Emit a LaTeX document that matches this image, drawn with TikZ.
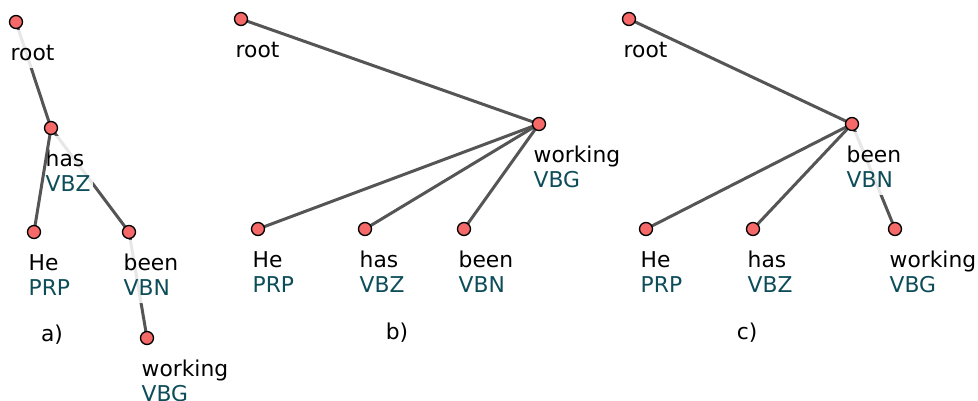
\documentclass[tikz,border=0pt]{standalone}
\usepackage{fontspec}
\setmainfont{DejaVu Sans}
\definecolor{dotred}{RGB}{245,105,105}
\definecolor{edgegray}{RGB}{85,85,85}
\definecolor{posteal}{RGB}{13,77,90}
\begin{document}
\begin{tikzpicture}[x=1pt,y=-1pt,
  edge/.style={draw=edgegray,line width=3pt},
  dot/.style={circle,draw=black,line width=1.3pt,fill=dotred,minimum size=13pt,inner sep=0pt},
  lbl/.style={anchor=north west,inner xsep=2pt,inner ysep=0pt,fill=white,fill opacity=0.86,text opacity=1,align=left,font=\fontsize{21.8}{25}\selectfont},
  captxt/.style={font=\fontsize{21.8}{25}\selectfont,inner sep=0pt}]
\useasboundingbox (0,0) rectangle (978,400);
% ---------- coordinates ----------
\coordinate (aroot) at (16,22);
\coordinate (ahas) at (51,128);
\coordinate (ahe) at (34,232);
\coordinate (abeen) at (129,232);
\coordinate (awork) at (147,338);
\coordinate (broot) at (241,19);
\coordinate (bwork) at (539,124);
\coordinate (bhe) at (258,229);
\coordinate (bhas) at (365,229);
\coordinate (bbeen) at (464,229);
\coordinate (croot) at (629,19);
\coordinate (cbeen) at (852,124);
\coordinate (che) at (646,229);
\coordinate (chas) at (753,229);
\coordinate (cwork) at (895,229);
% ---------- tree a ----------
\path[edge] (aroot) -- (ahas);
\node[lbl] (laroot) at ([shift={(-7.5,8)}]aroot) {\rule{0pt}{30.5pt}root\rule[-7pt]{0pt}{0pt}};
\path[edge] (ahas) -- (abeen);
\node[lbl] (lahas) at ([shift={(-7.5,8)}]ahas) {\rule{0pt}{30.5pt}has\\\textcolor{posteal}{VBZ}\rule[-7pt]{0pt}{0pt}};
\path[edge] (ahas) -- (ahe);
\path[edge] (abeen) -- (awork);
\node[lbl] (lahe) at ([shift={(-7.5,8)}]ahe) {\rule{0pt}{30.5pt}He\\\textcolor{posteal}{PRP}\rule[-7pt]{0pt}{0pt}};
\node[lbl] (labeen) at ([shift={(-7.5,8)}]abeen) {\rule{0pt}{30.5pt}been\\\textcolor{posteal}{VBN}\rule[-7pt]{0pt}{0pt}};
\node[lbl] (lawork) at ([shift={(-7.5,8)}]awork) {\rule{0pt}{30.5pt}working\\\textcolor{posteal}{VBG}\rule[-7pt]{0pt}{0pt}};
\node[captxt] (capa) at (52,335) {a)};
% ---------- tree b ----------
\node[lbl] (lbroot) at ([shift={(-7.5,8)}]broot) {\rule{0pt}{30.5pt}root\rule[-7pt]{0pt}{0pt}};
\node[lbl] (lbwork) at ([shift={(-7.5,8)}]bwork) {\rule{0pt}{30.5pt}working\\\textcolor{posteal}{VBG}\rule[-7pt]{0pt}{0pt}};
\node[lbl] (lbhe) at ([shift={(-7.5,8)}]bhe) {\rule{0pt}{30.5pt}He\\\textcolor{posteal}{PRP}\rule[-7pt]{0pt}{0pt}};
\node[lbl] (lbhas) at ([shift={(-7.5,8)}]bhas) {\rule{0pt}{30.5pt}has\\\textcolor{posteal}{VBZ}\rule[-7pt]{0pt}{0pt}};
\node[lbl] (lbbeen) at ([shift={(-7.5,8)}]bbeen) {\rule{0pt}{30.5pt}been\\\textcolor{posteal}{VBN}\rule[-7pt]{0pt}{0pt}};
\path[edge] (broot) -- (bwork);
\path[edge] (bwork) -- (bhe);
\path[edge] (bwork) -- (bhas);
\path[edge] (bwork) -- (bbeen);
\node[captxt] (capb) at (397,333) {b)};
% ---------- tree c ----------
\path[edge] (cbeen) -- (cwork);
\node[lbl] (lcroot) at ([shift={(-7.5,8)}]croot) {\rule{0pt}{30.5pt}root\rule[-7pt]{0pt}{0pt}};
\node[lbl] (lcbeen) at ([shift={(-7.5,8)}]cbeen) {\rule{0pt}{30.5pt}been\\\textcolor{posteal}{VBN}\rule[-7pt]{0pt}{0pt}};
\node[lbl] (lche) at ([shift={(-7.5,8)}]che) {\rule{0pt}{30.5pt}He\\\textcolor{posteal}{PRP}\rule[-7pt]{0pt}{0pt}};
\node[lbl] (lchas) at ([shift={(-7.5,8)}]chas) {\rule{0pt}{30.5pt}has\\\textcolor{posteal}{VBZ}\rule[-7pt]{0pt}{0pt}};
\node[lbl] (lcwork) at ([shift={(-7.5,8)}]cwork) {\rule{0pt}{30.5pt}working\\\textcolor{posteal}{VBG}\rule[-7pt]{0pt}{0pt}};
\path[edge] (croot) -- (cbeen);
\path[edge] (cbeen) -- (che);
\path[edge] (cbeen) -- (chas);
\node[captxt] (capc) at (747,333) {c)};
% ---------- dots ----------
\foreach \n in {aroot,ahas,ahe,abeen,awork,broot,bwork,bhe,bhas,bbeen,croot,cbeen,che,chas,cwork}
  \node[dot] (d\n) at (\n) {};
\end{tikzpicture}
\end{document}
